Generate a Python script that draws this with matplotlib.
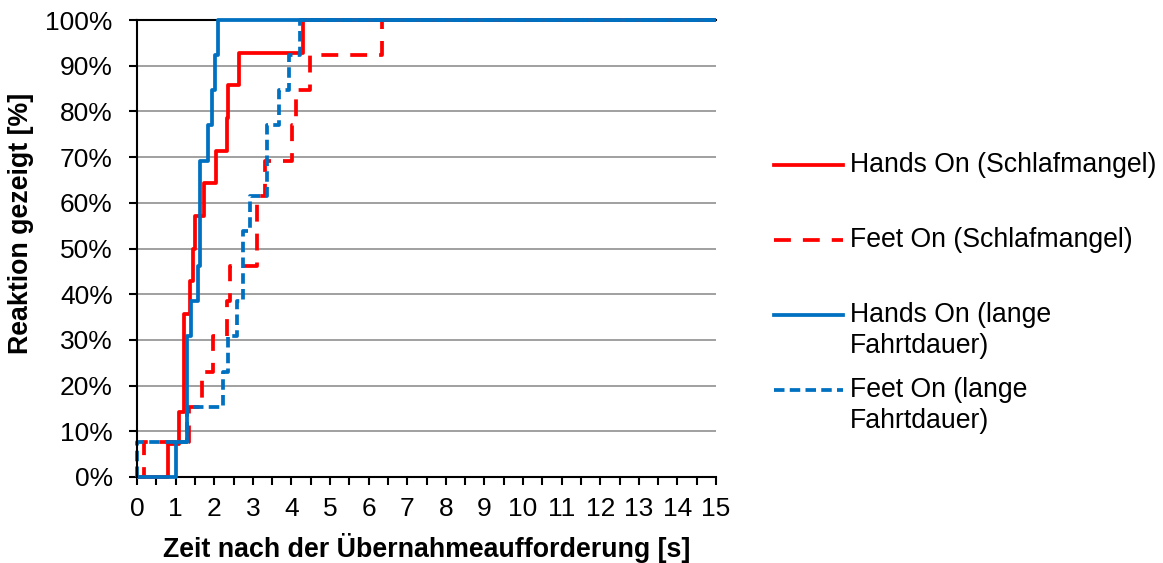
import matplotlib
matplotlib.use("Agg")
import matplotlib.pyplot as plt
from matplotlib.lines import Line2D
from matplotlib.ticker import MultipleLocator, FuncFormatter

plt.rcParams['font.family'] = ['Liberation Sans', 'DejaVu Sans']

# reaction times [s], one entry per participant
hands_schlaf = [0.80, 1.09, 1.21, 1.21, 1.21, 1.38, 1.45, 1.50, 1.74, 2.05, 2.33, 2.37, 2.63, 4.30]
feet_schlaf = [0.17, 1.34, 1.68, 1.96, 2.33, 2.40, 3.11, 3.11, 3.32, 4.02, 4.13, 4.49, 6.35]
hands_lang = [1.01, 1.30, 1.30, 1.30, 1.41, 1.58, 1.62, 1.62, 1.64, 1.84, 1.94, 2.03, 2.09]
feet_lang = [0.0, 1.29, 2.24, 2.35, 2.59, 2.74, 2.74, 2.94, 3.37, 3.37, 3.67, 3.93, 4.23]

labels = ["Hands On (Schlafmangel)", "Feet On (Schlafmangel)",
          "Hands On (lange\nFahrtdauer)", "Feet On (lange\nFahrtdauer)"]
x_max = 15

RED = '#FF0000'
BLUE = '#0070C0'
styles = [
    dict(color=RED, lw=2.7),
    dict(color=RED, lw=2.7, dashes=(4.5, 3.2)),
    dict(color=BLUE, lw=2.7),
    dict(color=BLUE, lw=2.7, dashes=(2.8, 1.4)),
]

W, H = 1163, 563
fig = plt.figure(figsize=(W / 100, H / 100), dpi=100)
ax = fig.add_axes([137 / W, 1 - 477 / H, (716 - 137) / W, (477 - 20) / H])


def ecdf(times):
    n = len(times)
    xs = [0] + sorted(times) + [x_max]
    ys = [0] + [100 * (i + 1) / n for i in range(n)] + [100]
    return xs, ys


for series, st in zip([hands_schlaf, feet_schlaf, hands_lang, feet_lang], styles):
    xs, ys = ecdf(series)
    ax.step(xs, ys, where='post', solid_capstyle='butt', dash_capstyle='butt',
            clip_on=False, zorder=3, **st)

ax.set_xlim(0, x_max)
ax.set_ylim(0, 100)
ax.xaxis.set_major_locator(MultipleLocator(1))
ax.xaxis.set_minor_locator(MultipleLocator(0.5))
ax.yaxis.set_major_locator(MultipleLocator(10))
ax.yaxis.set_major_formatter(FuncFormatter(lambda v, p: f"{v:.0f}%"))

ax.grid(axis='y', color='#a0a0a0', lw=1.4)
ax.set_axisbelow(True)
for s in ['left', 'bottom', 'top']:
    ax.spines[s].set_linewidth(1.5)
    ax.spines[s].set_color('black')
ax.spines['right'].set_visible(False)
ax.spines['left'].set_zorder(3.5)
ax.spines['bottom'].set_zorder(2.5)

ax.tick_params(axis='both', which='both', direction='out', length=5.5, width=1.5,
               labelsize=19, color='black')
ax.tick_params(axis='y', pad=12)
ax.tick_params(axis='x', pad=9)

ax.set_xlabel("Zeit nach der Übernahmeaufforderung [s]", fontsize=19.3, fontweight='bold')
ax.set_ylabel("Reaktion gezeigt [%]", fontsize=19.3, fontweight='bold')
ax.xaxis.set_label_coords(0.5, (477 - 533) / 457)
ax.yaxis.set_label_coords((34 - 137) / 579, (477 - 223) / 457)

# legend, handle next to the first line of each entry (as in the original)
leg_y = [165, 240, 315, 390]
for lab, st, yy in zip(labels, styles, leg_y):
    fy = 1 - yy / H
    fig.add_artist(Line2D([774 / W, 843 / W], [fy, fy], transform=fig.transFigure, **st))
    for k, line in enumerate(lab.split("\n")):
        fig.text(850 / W, 1 - (yy + 31 * k) / H, line, fontsize=19.2, va='center', ha='left')

fig.savefig("out.png", dpi=100)
